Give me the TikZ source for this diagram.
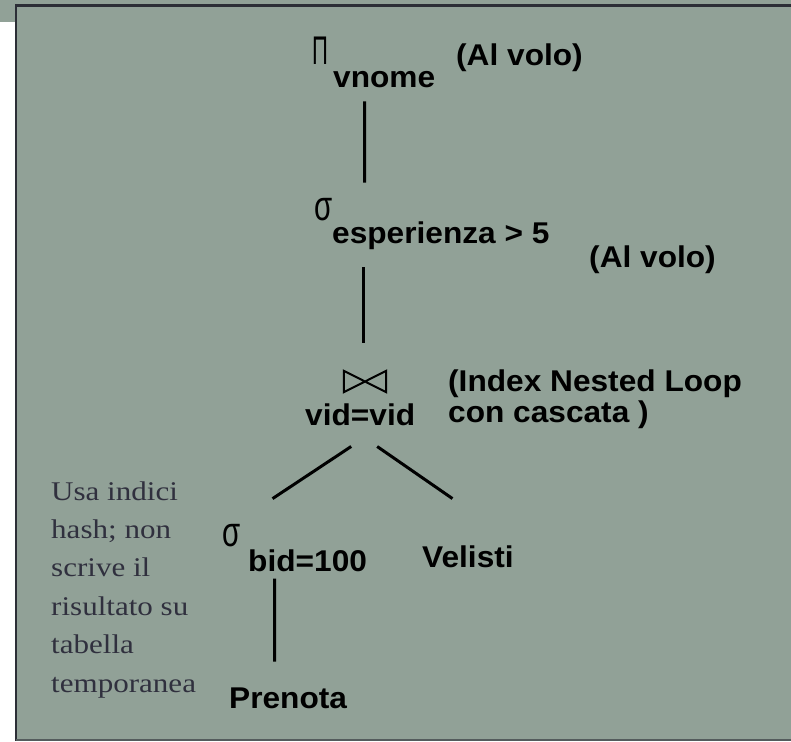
\documentclass[tikz,border=0pt]{standalone}
\usepackage{fontspec}
\setmainfont{Liberation Sans}
\newfontfamily\labfont{Liberation Sans}[FakeStretch=1.055]
\newfontfamily\notefont{Liberation Serif}[FakeStretch=1.15]
\newfontfamily\opfont{Liberation Sans}
\definecolor{slide}{RGB}{145,161,151}
\definecolor{frameline}{RGB}{44,46,54}
\definecolor{notegray}{RGB}{48,48,62}
\tikzset{
  lab/.style={inner sep=0pt, anchor=base west, text=black,
    font=\labfont\bfseries\fontsize{30}{31}\selectfont},
  note/.style={inner sep=0pt, anchor=base west, align=left, text=notegray,
    font=\notefont\fontsize{27}{38.4}\selectfont},
  opsym/.style={inner sep=0pt, anchor=base west, text=black},
  edge/.style={line width=3pt, black},
  joinbox/.style={inner sep=0pt, minimum width=42pt, minimum height=21pt},
  bowtie/.style={line width=2pt, black, line join=miter}
}
\begin{document}
\begin{tikzpicture}[x=1pt, y=-1pt]
  \useasboundingbox (0,0) rectangle (791,741);
  % slide background and frame
  \fill[white] (0,0) rectangle (791,741);
  \fill[slide] (0,0) rectangle (791,22);
  \fill[slide] (15,0) rectangle (791,741);
  \draw[frameline, line width=2.6pt] (15,5.3) -- (791,5.3);
  \draw[frameline, line width=2pt] (16,4) -- (16,741);
  \draw[frameline!60!slide, line width=1.6pt] (16,740.2) -- (791,740.2);

  % projection
  \node[opsym, font=\opfont\fontsize{40}{40}\selectfont] (pi) at (312,65) {\scalebox{0.55}[1]{Π}};
  \node[lab] (vnome) at (333,88) {vnome};
  \node[lab] (fly1) at (456,66) {(Al volo)};

  % selection on esperienza
  \node[opsym, font=\opfont\fontsize{42}{42}\selectfont] (sig1) at (314,220) {\scalebox{0.7}[1]{σ}};
  \node[lab] (esp) at (332,243) {esperienza > 5};
  \node[lab] (fly2) at (589,267) {(Al volo)};

  % join
  \node[joinbox] (join) at (365,381.5) {};
  \draw[bowtie] (join.north west) -- (join.south east) -- (join.north east)
    -- (join.south west) -- cycle;
  \node[lab] (vid) at (305,425) {vid=vid};
  \node[lab, align=left] (inl) at (448,422) {(Index Nested Loop\\con cascata )};

  % selection on bid and base relations
  \node[opsym, font=\opfont\fontsize{42}{42}\selectfont] (sig2) at (222,546) {\scalebox{0.7}[1]{σ}};
  \node[lab] (bid) at (248,571) {bid=100};
  \node[lab] (vel) at (422,567) {Velisti};
  \node[lab] (pren) at (229,708) {Prenota};

  % side note
  \node[note] (hint) at (51,692) {Usa indici\\hash; non\\scrive il\\risultato su\\tabella\\temporanea};

  % tree edges
  \draw[edge] ([xshift=-19.5pt,yshift=-13pt]vnome.south) -- ([xshift=32pt,yshift=15pt]sig1.north east);
  \draw[edge] ([xshift=31pt,yshift=-18pt]esp.south west) -- ([xshift=-2pt,yshift=28pt]join.north);
  \draw[edge] ([xshift=-9pt,yshift=-21pt]vid.south) -- ([xshift=32pt,yshift=25pt]sig2.north east);
  \draw[edge] ([xshift=17pt,yshift=-21pt]vid.south) -- ([xshift=-15.5pt,yshift=46.5pt]vel.north);
  \draw[edge] ([xshift=-33pt,yshift=-7pt]bid.south) -- ([xshift=-13.5pt,yshift=25.5pt]pren.north);
\end{tikzpicture}
\end{document}
